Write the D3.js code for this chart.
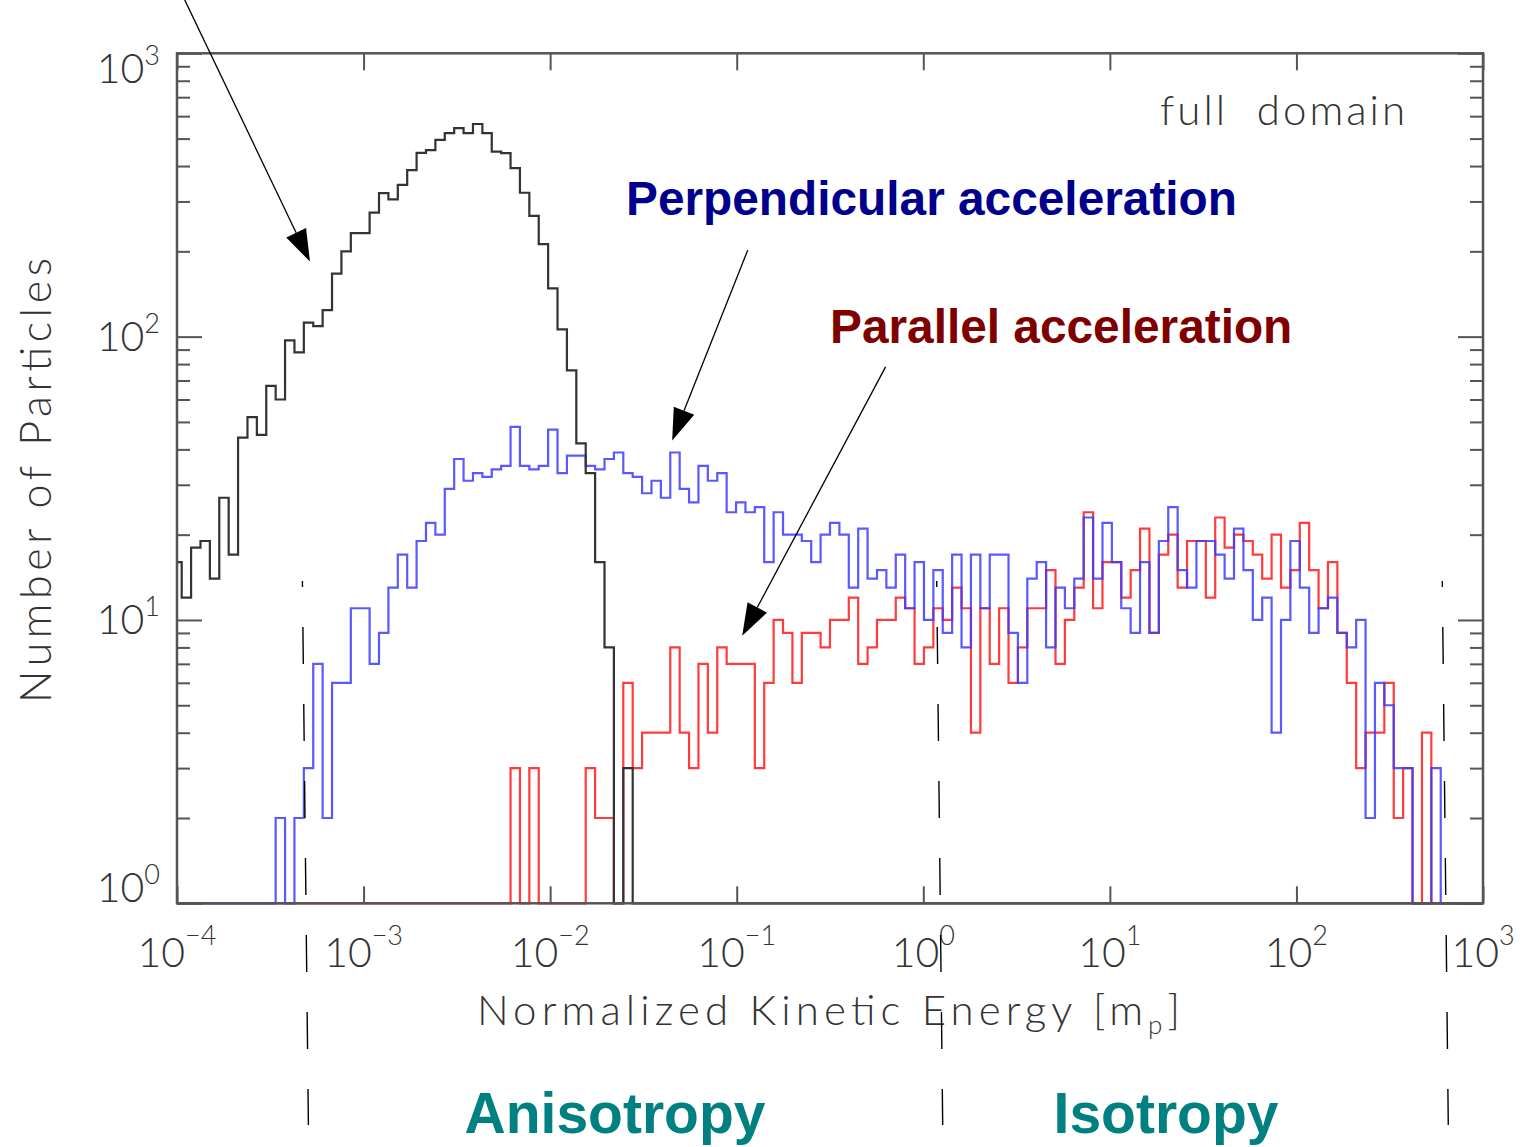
<!DOCTYPE html>
<html>
<head>
<meta charset="utf-8">
<script src="https://cdn.jsdelivr.net/npm/d3@7"></script>
<style>
  body { margin: 0; background: #fff; }
  .lbl { font-family: Lato, "DejaVu Sans", sans-serif; font-weight: 300; fill: #333; }
  .note { font-family: "Liberation Sans", Arial, sans-serif; font-weight: bold; }
</style>
</head>
<body>
<svg id="chart" width="1526" height="1147"></svg>
<script>
// histogram bins: 140 points, log-spaced from 1e-4 to 1e3 (bin centres)
const nBins = 140;
const logLo = -4, logHi = 3;

// total population (black)
const totalCounts = [
  16, 12, 18, 19, 14, 27, 17, 44, 52, 45,
  67, 60, 97, 88, 112, 109, 124, 167, 200, 232,
  232, 274, 321, 305, 343, 387, 445, 455, 495, 523,
  544, 523, 563, 523, 450, 444, 393, 322, 267, 212,
  148, 106, 76, 42, 33, 16, 8, 0, 3, 0,
  0, 0, 0, 0, 0, 0, 0, 0, 0, 0,
  0, 0, 0, 0, 0, 0, 0, 0, 0, 0,
  0, 0, 0, 0, 0, 0, 0, 0, 0, 0,
  0, 0, 0, 0, 0, 0, 0, 0, 0, 0,
  0, 0, 0, 0, 0, 0, 0, 0, 0, 0,
  0, 0, 0, 0, 0, 0, 0, 0, 0, 0,
  0, 0, 0, 0, 0, 0, 0, 0, 0, 0,
  0, 0, 0, 0, 0, 0, 0, 0, 0, 0,
  0, 0, 0, 0, 0, 0, 0, 0, 0, 0
];

// perpendicular acceleration (blue)
const perpCounts = [
  0, 0, 0, 0, 0, 0, 0, 0, 0, 0,
  0, 2, 0, 2, 3, 7, 2, 6, 6, 11,
  11, 7, 9, 13, 17, 13, 19, 22, 20, 29,
  37, 31, 33, 32, 34, 35, 48, 35, 34, 35,
  47, 33, 38, 38, 35, 34, 37, 39, 33, 32,
  28, 31, 27, 39, 29, 26, 35, 31, 33, 24,
  26, 24, 25, 16, 24, 20, 20, 19, 16, 20,
  22, 20, 13, 21, 14, 15, 13, 17, 11, 16,
  10, 15, 9, 17, 8, 17, 11, 17, 17, 9,
  6, 14, 16, 8, 13, 11, 14, 23, 14, 22,
  16, 11, 9, 16, 9, 19, 25, 15, 13, 19,
  19, 17, 14, 21, 15, 10, 12, 4, 10, 19,
  13, 9, 11, 12, 9, 8, 10, 2, 6, 5,
  3, 3, 0, 0, 3, 0, 0, 0, 0, 0
];

// parallel acceleration (red)
const parCounts = [
  0, 0, 0, 0, 0, 0, 0, 0, 0, 0,
  0, 0, 0, 0, 0, 0, 0, 0, 0, 0,
  0, 0, 0, 0, 0, 0, 0, 0, 0, 0,
  0, 0, 0, 0, 0, 0, 3, 0, 3, 0,
  0, 0, 0, 0, 3, 2, 2, 0, 6, 3,
  4, 4, 4, 8, 4, 3, 7, 4, 8, 7,
  7, 7, 3, 6, 10, 9, 6, 9, 9, 8,
  10, 10, 12, 7, 8, 10, 10, 12, 11, 7,
  8, 11, 10, 13, 11, 4, 11, 7, 11, 6,
  8, 11, 11, 15, 7, 10, 13, 24, 11, 16,
  16, 12, 15, 21, 9, 17, 20, 13, 19, 19,
  12, 23, 18, 20, 19, 17, 14, 20, 13, 15,
  22, 15, 11, 16, 9, 6, 3, 4, 4, 6,
  2, 3, 0, 4, 0, 0, 0, 0, 0, 0
];

const xTickExps = [-4, -3, -2, -1, 0, 1, 2, 3];
const yTickExps = [0, 1, 2, 3];
const yMinorTicks = [2, 3, 4, 5, 6, 7, 8, 9, 20, 30, 40, 50, 60, 70, 80, 90, 200, 300, 400, 500, 600, 700, 800, 900];

// regime boundaries (energy) marked by dashed lines
const boundaries = [4.7e-4, 1.18, 6.05e2];

// arrows: [start energy, start count, tip energy, tip count]
const arrows = [
  [1.10e-4, 1543, 5.16e-4, 184],
  [0.1146, 202, 0.0451, 43],
  [0.628, 78.2, 0.107, 8.8]
];

const L = 177, R = 1483, T = 53.3, B = 903.3;
const svg = d3.select('#chart');

const x = d3.scaleLog().domain([1e-4, 1e3]).range([L, R]);
const y = d3.scaleLog().domain([1, 1000]).range([B, T]);

const binStep = (logHi - logLo) / (nBins - 1);

function steps(counts) {
  const pts = [];
  counts.forEach((c, k) => {
    const lc = logLo + k * binStep;
    const v = Math.max(c, 1);
    pts.push([Math.pow(10, Math.max(lc - binStep / 2, logLo)), v]);
    pts.push([Math.pow(10, Math.min(lc + binStep / 2, logHi)), v]);
  });
  return pts;
}

const line = d3.line().x(d => x(d[0])).y(d => y(d[1]));

// histograms
svg.append('path').attr('d', line(steps(parCounts)))
  .attr('fill', 'none').attr('stroke', '#ff3b3b').attr('stroke-width', 2.2);
svg.append('path').attr('d', line(steps(perpCounts)))
  .attr('fill', 'none').attr('stroke', '#3c3cff').attr('stroke-width', 2.2).attr('stroke-opacity', 0.85);
svg.append('path').attr('d', line(steps(totalCounts)))
  .attr('fill', 'none').attr('stroke', '#333').attr('stroke-width', 2.2);

// frame and ticks
function styleAxis(g) {
  g.select('.domain').remove();
  g.selectAll('.tick line').attr('stroke', '#555').attr('stroke-width', 2);
  g.selectAll('.tick text').remove();
}
const xTicks = xTickExps.map(e => Math.pow(10, e));
svg.append('g').attr('transform', `translate(0,${B})`)
  .call(d3.axisBottom(x).tickValues(xTicks).tickSize(-17)).call(styleAxis);
svg.append('g').attr('transform', `translate(0,${T})`)
  .call(d3.axisTop(x).tickValues(xTicks).tickSize(-17)).call(styleAxis);

const yTicks = yTickExps.map(e => Math.pow(10, e));
svg.append('g').attr('transform', `translate(${L},0)`)
  .call(d3.axisLeft(y).tickValues(yTicks).tickSize(-25)).call(styleAxis);
svg.append('g').attr('transform', `translate(${L},0)`)
  .call(d3.axisLeft(y).tickValues(yMinorTicks).tickSize(-13)).call(styleAxis);
svg.append('g').attr('transform', `translate(${R},0)`)
  .call(d3.axisRight(y).tickValues(yTicks).tickSize(-25)).call(styleAxis);
svg.append('g').attr('transform', `translate(${R},0)`)
  .call(d3.axisRight(y).tickValues(yMinorTicks).tickSize(-13)).call(styleAxis);

svg.append('rect').attr('x', L).attr('y', T).attr('width', R - L).attr('height', B - T)
  .attr('fill', 'none').attr('stroke', '#555').attr('stroke-width', 2.5);

// tick labels
const xl = svg.append('g').selectAll('text').data(xTickExps).join('text')
  .attr('class', 'lbl').attr('x', d => x(Math.pow(10, d))).attr('y', 967)
  .attr('text-anchor', 'middle').attr('font-size', 41);
xl.append('tspan').text('10');
xl.append('tspan').attr('dy', -22).attr('font-size', 27).text(d => String(d).replace('-', '\u2212'));

const yl = svg.append('g').selectAll('text').data(yTickExps).join('text')
  .attr('class', 'lbl').attr('x', 160)
  .attr('y', d => Math.min(Math.max(y(Math.pow(10, d)), 69), 888) + 14)
  .attr('text-anchor', 'end').attr('font-size', 41);
yl.append('tspan').text('10');
yl.append('tspan').attr('dy', -18).attr('font-size', 27).text(d => d);

// axis titles
const xt = svg.append('text').attr('class', 'lbl').attr('x', 477).attr('y', 1025)
  .attr('font-size', 42).attr('textLength', 703).attr('lengthAdjust', 'spacing');
xt.append('tspan').text('Normalized Kinetic Energy [m');
xt.append('tspan').attr('dy', 9).attr('font-size', 26).text('p');
xt.append('tspan').attr('dy', -9).text(']');

svg.append('text').attr('class', 'lbl')
  .attr('transform', 'translate(51,703) rotate(-90)')
  .attr('font-size', 43).attr('textLength', 445).attr('lengthAdjust', 'spacing')
  .text('Number of Particles');

svg.append('text').attr('class', 'lbl').attr('x', 1160).attr('y', 125)
  .attr('font-size', 42).attr('textLength', 245).attr('lengthAdjust', 'spacing')
  .attr('xml:space', 'preserve')
  .text('full  domain');

// annotations
svg.append('text').attr('class', 'note').attr('x', 626).attr('y', 215)
  .attr('font-size', 47.8).attr('fill', '#00008c').text('Perpendicular acceleration');
svg.append('text').attr('class', 'note').attr('x', 830).attr('y', 343)
  .attr('font-size', 47.8).attr('fill', '#800000').text('Parallel acceleration');
svg.append('text').attr('class', 'note').attr('x', 615).attr('y', 1133)
  .attr('text-anchor', 'middle').attr('font-size', 57).attr('fill', '#008080').text('Anisotropy');
svg.append('text').attr('class', 'note').attr('x', 1166).attr('y', 1133)
  .attr('text-anchor', 'middle').attr('font-size', 57).attr('fill', '#008080').text('Isotropy');

// arrows
arrows.forEach(a => {
  const sx = x(a[0]), sy = y(a[1]), tx = x(a[2]), ty = y(a[3]);
  const len = Math.hypot(tx - sx, ty - sy);
  const ux = (tx - sx) / len, uy = (ty - sy) / len;
  const bx = tx - 32 * ux, by = ty - 32 * uy;
  svg.append('line').attr('x1', sx).attr('y1', sy).attr('x2', bx).attr('y2', by)
    .attr('stroke', '#000').attr('stroke-width', 1.3);
  svg.append('path')
    .attr('d', `M${tx},${ty}L${bx - 11 * uy},${by + 11 * ux}L${bx + 11 * uy},${by - 11 * ux}Z`)
    .attr('fill', '#000');
});

// dashed regime separators
svg.append('g').selectAll('line').data(boundaries).join('line')
  .attr('x1', d => x(d)).attr('y1', 581)
  .attr('x2', d => x(d) + 6).attr('y2', 1125)
  .attr('stroke', '#000').attr('stroke-width', 1.4)
  .attr('stroke-dasharray', '37 40').attr('stroke-dashoffset', 31);
</script>
</body>
</html>
